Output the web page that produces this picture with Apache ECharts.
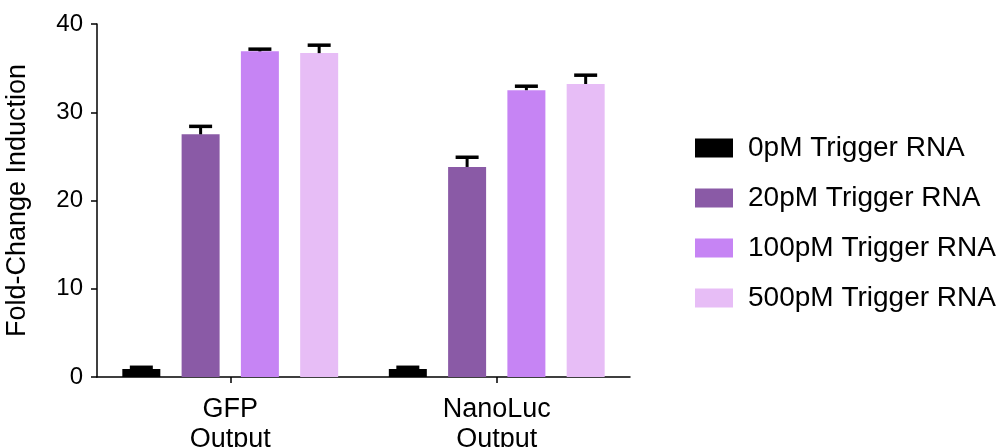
<!DOCTYPE html>
<html>
<head>
<meta charset="utf-8">
<script src="https://cdn.jsdelivr.net/npm/echarts@6/dist/echarts.min.js"></script>
<style>
html,body{margin:0;padding:0;background:#fff;}
#chart{width:1006px;height:447px;}
</style>
</head>
<body>
<div id="chart"></div>
<script>
var categories = ['GFP\nOutput', 'NanoLuc\nOutput'];
var seriesNames = ['0pM Trigger RNA', '20pM Trigger RNA', '100pM Trigger RNA', '500pM Trigger RNA'];
var colors = ['#000000', '#8a5aa6', '#c684f4', '#e7bdf6'];
var values0 = [0.9, 0.9];
var values20 = [27.5, 23.8];
var values100 = [36.9, 32.5];
var values500 = [36.7, 33.2];
var err0 = [0.2, 0.2];
var err20 = [0.9, 1.1];
var err100 = [0.25, 0.45];
var err500 = [0.9, 1.0];
var yTicks = [0, 10, 20, 30, 40];

var allValues = [values0, values20, values100, values500];
var allErr = [err0, err20, err100, err500];

var FONT = '"Liberation Sans", Arial, Helvetica, sans-serif';
var BAR_W = 38;
var BAR_GAP = 0.56;

var series = [];
seriesNames.forEach(function (name, i) {
  series.push({
    name: name,
    type: 'bar',
    data: allValues[i],
    barWidth: BAR_W,
    barGap: (BAR_GAP * 100) + '%',
    itemStyle: { color: colors[i] },
    z: 2
  });
});

var errData = [];
allValues.forEach(function (vals, si) {
  vals.forEach(function (v, ci) {
    errData.push([ci, v, allErr[si][ci], si]);
  });
});

series.push({
  type: 'custom',
  name: 'err',
  data: errData,
  z: 5,
  silent: true,
  renderItem: function (params, api) {
    var ci = api.value(0), v = api.value(1), e = api.value(2), si = api.value(3);
    var n = seriesNames.length;
    var step = BAR_W * (1 + BAR_GAP);
    var total = n * BAR_W + (n - 1) * BAR_W * BAR_GAP;
    var off = -total / 2 + si * step + BAR_W / 2;
    var p0 = api.coord([ci, v]);
    var p1 = api.coord([ci, v + e]);
    var x = p0[0] + off;
    var capHalf = 11.5;
    return {
      type: 'group',
      children: [
        { type: 'line', shape: { x1: x, y1: p0[1], x2: x, y2: p1[1] }, style: { stroke: '#000', lineWidth: 3 } },
        { type: 'line', shape: { x1: x - capHalf, y1: p1[1], x2: x + capHalf, y2: p1[1] }, style: { stroke: '#000', lineWidth: 3.5 } }
      ]
    };
  }
});

var chart = echarts.init(document.getElementById('chart'));
chart.setOption({
  animation: false,
  backgroundColor: '#fff',
  textStyle: { fontFamily: FONT },
  grid: { left: 97, top: 24, bottom: 70, right: 376, containLabel: false, outerBoundsMode: 'none' },
  legend: {
    data: seriesNames,
    orient: 'vertical',
    left: 690,
    top: 129,
    itemWidth: 38,
    itemHeight: 19,
    itemGap: 22,
    icon: 'rect',
    textStyle: { fontSize: 28, color: '#000', fontFamily: FONT, padding: [0, 0, 0, 10], lineHeight: 28 }
  },
  xAxis: {
    type: 'category',
    data: categories,
    axisLine: { show: true, lineStyle: { color: '#000', width: 1.5 } },
    axisTick: { show: true, alignWithLabel: true, length: 6, lineStyle: { color: '#000', width: 1.5 } },
    axisLabel: { fontSize: 27, color: '#000', lineHeight: 30, margin: 18, fontFamily: FONT }
  },
  yAxis: {
    type: 'value',
    min: yTicks[0],
    max: yTicks[yTicks.length - 1],
    interval: 10,
    name: 'Fold-Change Induction',
    nameLocation: 'middle',
    nameGap: 66,
    nameTextStyle: { fontSize: 27, color: '#000', fontFamily: FONT },
    axisLine: { show: true, lineStyle: { color: '#000', width: 1.5 } },
    axisTick: { show: true, length: 6, lineStyle: { color: '#000', width: 1.5 } },
    axisLabel: { fontSize: 24, color: '#000', margin: 14, fontFamily: FONT },
    splitLine: { show: false }
  },
  series: series
});
</script>
</body>
</html>
